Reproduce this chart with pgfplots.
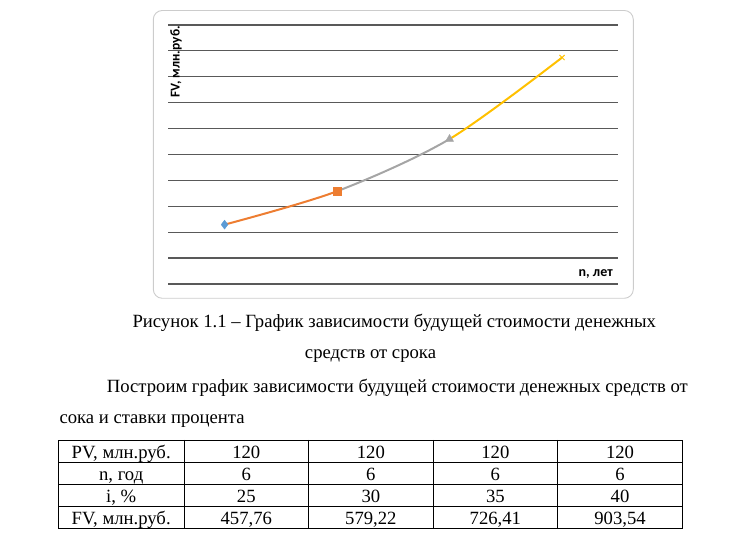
\documentclass[border=0pt]{standalone}
\usepackage{fontspec}
\setmainfont{Liberation Serif}
\newfontfamily\carlito{Carlito}
\usepackage{pgfplots}
\usepackage{pgfplotstable}
\pgfplotsset{compat=1.18}
\definecolor{exblue}{HTML}{5B9BD5}
\definecolor{exorange}{HTML}{ED7D31}
\definecolor{exgray}{HTML}{A5A5A5}
\definecolor{exyellow}{HTML}{FFC000}
\pgfplotstableread{
x y
1 187.5
2 292.97
3 457.76
4 715.26
}\fvdata
\begin{document}
\begin{tikzpicture}[x=1pt,y=1pt]
\path (0,0) rectangle (731,548);
% chart frame
\draw[gray!40, line width=0.9pt, rounded corners=9pt] (153.3,537.5) rectangle (633.3,249.7);
\begin{axis}[
  at={(168.3pt,264pt)}, anchor=south west,
  scale only axis, width=450pt, height=259pt,
  xmin=0.5, xmax=4.5, ymin=0, ymax=818,
  axis line style={draw=none},
  xtick=\empty,
  ytick={0,81.8,163.6,245.4,327.2,409,490.8,572.6,654.4,736.2,818},
  yticklabels={},
  major tick length=0pt,
  ymajorgrids,
  grid style={color=black!65, line width=1.2pt},
  clip=false,
]
\begin{scope}
\clip (axis cs:1,0) rectangle (axis cs:2,818);
\addplot[smooth, color=exorange, line width=2pt] table[x=x,y=y] {\fvdata};
\end{scope}
\begin{scope}
\clip (axis cs:2,0) rectangle (axis cs:3,818);
\addplot[smooth, color=exgray, line width=2pt] table[x=x,y=y] {\fvdata};
\end{scope}
\begin{scope}
\clip (axis cs:3,0) rectangle (axis cs:4,818);
\addplot[smooth, color=exyellow, line width=2pt] table[x=x,y=y] {\fvdata};
\end{scope}
\addplot[only marks, mark=diamond*, mark size=4.5pt, color=exblue] coordinates {(1,187.5)};
\addplot[only marks, mark=square*, mark size=3.8pt, color=exorange] coordinates {(2,292.97)};
\addplot[only marks, mark=triangle*, mark size=4.6pt, color=exgray] coordinates {(3,457.76)};
\addplot[only marks, mark=x, mark size=3.6pt, line width=1pt, color=exyellow] coordinates {(4,715.26)};
\end{axis}
% axis titles
\node[rotate=90, inner sep=0pt, font=\carlito\bfseries\fontsize{13.5}{15}\selectfont] at (176,486) {FV, млн.руб.};
\node[anchor=east, inner sep=0pt, font=\carlito\bfseries\fontsize{14}{16}\selectfont] at (613,274) {n, лет};
% caption and paragraph
\begin{scope}[every node/.style={inner sep=0pt, font=\fontsize{18.67}{22}\selectfont}]
\node[anchor=base] at (394.3,220.3) {Рисунок 1.1 – График зависимости будущей стоимости денежных};
\node[anchor=base] at (370.5,189.7) {средств от срока};
\node[anchor=base west] at (106.7,155.7) {Построим график зависимости будущей стоимости денежных средств от};
\node[anchor=base west] at (59.3,124.7) {сока и ставки процента};
\end{scope}
% table
\begin{scope}[line width=0.8pt]
\draw (58.5,108) rectangle (682.3,19.7);
\foreach \yy in {85.7,63.7,41.3} \draw (58.5,\yy) -- (682.3,\yy);
\foreach \xx in {184,308.6,433.2,557.7} \draw (\xx,108) -- (\xx,19.7);
\end{scope}
\begin{scope}[every node/.style={inner sep=0pt, anchor=base, font=\fontsize{18.67}{22}\selectfont}]
\node at (121.2,89.9) {PV, млн.руб.};
\node at (121.2,67.9) {n, год};
\node at (121.2,45.5) {i, \%};
\node at (121.2,23.9) {FV, млн.руб.};
\foreach \xx/\fv/\ii in {246.3/457{,}76/25, 370.9/579{,}22/30, 495.4/726{,}41/35, 620/903{,}54/40} {
  \node at (\xx,89.9) {120};
  \node at (\xx,67.9) {6};
  \node at (\xx,45.5) {\ii};
  \node at (\xx,23.9) {\fv};
}
\end{scope}
\end{tikzpicture}
\end{document}
